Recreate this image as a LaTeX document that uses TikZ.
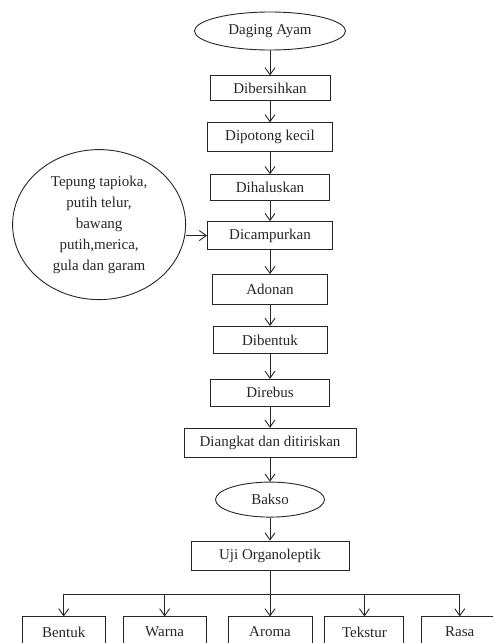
\documentclass[tikz,border=0pt]{standalone}
\usepackage{fontspec}
\setmainfont{Liberation Serif}
\usetikzlibrary{arrows.meta,positioning,shapes.geometric}

\begin{document}
\begin{tikzpicture}[
    font=\fontsize{15pt}{21pt}\selectfont,
    color=black!85,
    box/.style={draw, line width=0.9pt, align=center, inner sep=2pt},
    oval/.style={draw, ellipse, line width=0.9pt, align=center, inner sep=0pt},
    arrow/.style={-{Straight Barb[length=7pt,width=10pt]}, line width=0.9pt}
  ]
    \path[use as bounding box, clip] (0,0) rectangle (493pt,-643pt);
    \node[oval, minimum width=151pt, minimum height=38pt] (ayam) at (270pt,-31pt) {Daging Ayam};
    \node[box, minimum width=120pt, minimum height=25pt, below=25pt of ayam] (bersih) {Dibersihkan};
    \node[box, minimum width=125pt, minimum height=29pt, below=21pt of bersih] (potong) {Dipotong kecil};
    \node[box, minimum width=119pt, minimum height=26pt, below=22pt of potong] (halus) {Dihaluskan};
    \node[box, minimum width=125pt, minimum height=28pt, below=20pt of halus] (campur) {Dicampurkan};
    \node[box, minimum width=115pt, minimum height=30pt, below=24pt of campur] (adonan) {Adonan};
    \node[box, minimum width=114pt, minimum height=27pt, below=21pt of adonan] (dibentuk) {Dibentuk};
    \node[box, minimum width=119pt, minimum height=27pt, below=25pt of dibentuk] (rebus) {Direbus};
    \node[box, minimum width=172pt, minimum height=29pt, below=21pt of rebus] (angkat) {Diangkat dan ditiriskan};
    \node[oval, minimum width=109pt, minimum height=35pt, below=24pt of angkat] (bakso) {Bakso};
    \node[box, minimum width=158pt, minimum height=29pt, below=23pt of bakso] (uji) {Uji Organoleptik};
    \node[oval, minimum width=173pt, minimum height=150pt, left=21pt of campur, yshift=11pt] (bahan)
      {Tepung tapioka,\\putih telur,\\bawang\\putih,merica,\\gula dan garam};
    % uji organoleptik
    \node[box, minimum width=84pt, minimum height=30pt, below=46pt of uji] (aroma) {Aroma};
    \node[box, minimum width=83pt, minimum height=30pt, left=21pt of aroma] (warna) {Warna};
    \node[box, minimum width=83pt, minimum height=30pt, left=17pt of warna] (bentuk) {Bentuk};
    \node[box, minimum width=79pt, minimum height=30pt, right=12pt of aroma] (tekstur) {Tekstur};
    \node[box, minimum width=76pt, minimum height=30pt, right=17pt of tekstur] (rasa) {Rasa};
    \coordinate[below=24pt of uji] (bus);
    \foreach \a/\b in {ayam/bersih,bersih/potong,potong/halus,halus/campur,campur/adonan,adonan/dibentuk,dibentuk/rebus,rebus/angkat,angkat/bakso,bakso/uji} \draw[arrow] (\a) -- (\b);
    \draw[arrow] (campur.west -| bahan.east) -- (campur.west);
    \draw[line width=0.9pt] (uji) -- (bus);
    \draw[line width=0.9pt] (bentuk.north |- bus) -- (rasa.north |- bus);
    \foreach \n in {bentuk,warna,aroma,tekstur,rasa} \draw[arrow] (\n.north |- bus) -- (\n);
  \end{tikzpicture}
\end{document}
